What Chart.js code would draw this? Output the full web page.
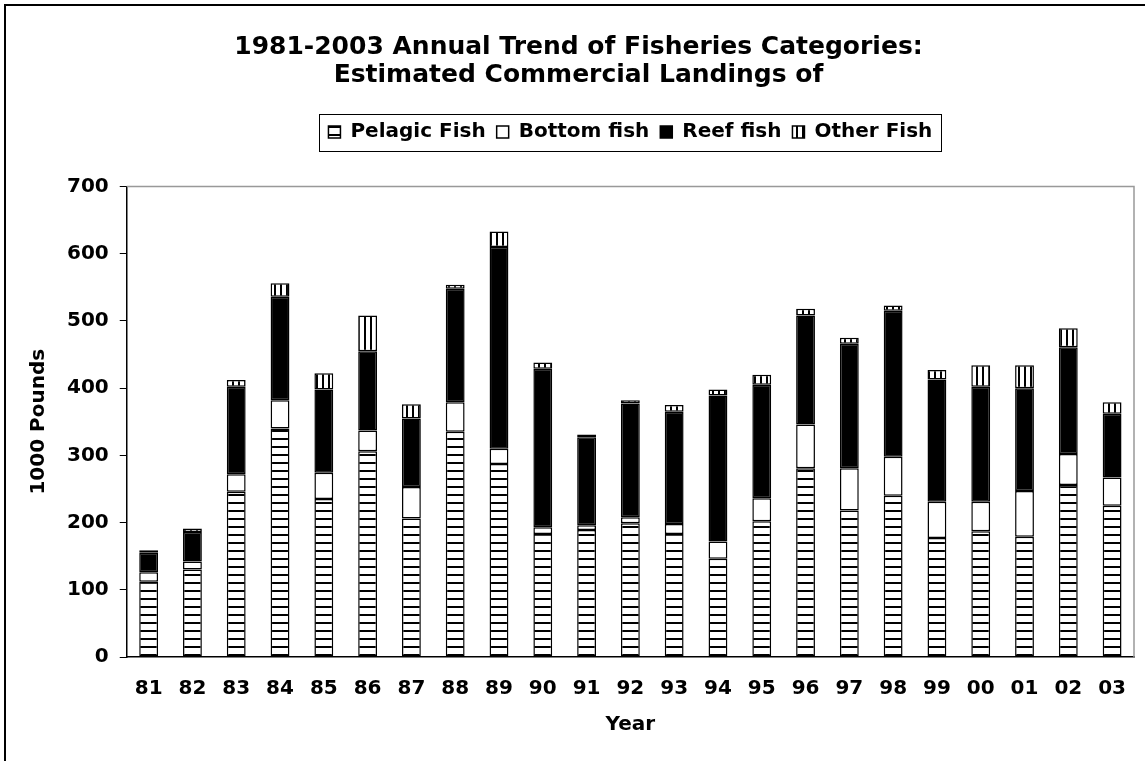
<!DOCTYPE html>
<html>
<head>
<meta charset="utf-8">
<script src="https://cdn.jsdelivr.net/npm/chart.js@4/dist/chart.umd.min.js"></script>
<style>
  body { margin: 0; background: #fff; }
  #wrap { width: 1145px; height: 761px; }
</style>
</head>
<body>
<div id="wrap"><canvas id="fishChart" width="1145" height="761"></canvas></div>
<script>
// data (1000 pounds)
let years = ["81","82","83","84","85","86","87","88","89","90","91","92","93","94","95","96","97","98","99","00","01","02","03"];
let pelagic = [112,130,246,340,235,306,206,335,287,183,189,199,183,146,202,281,218,240,177,187,179,256,225];
let bottomFish = [14,12,26,42,39,31,47,44,23,10,7,9,15,26,34,65,63,58,54,44,68,46,42];
let reefFish = [29,44,130,154,124,118,102,169,300,236,131,169,167,217,169,162,185,217,182,171,153,159,95];
let otherFish = [4,5,10,20,24,53,21,6,23,9,4,5,10,9,15,10,9,8,14,32,34,28,17];
let seriesNames = ["Pelagic Fish", "Bottom fish", "Reef fish", "Other Fish"];
let yTicks = [0, 700, 100];

let canvas = document.getElementById("fishChart");
let ctx = canvas.getContext("2d");

// hatch patterns
function makePattern(w, h, drawLines) {
  let c = document.createElement("canvas");
  c.width = w; c.height = h;
  let p = c.getContext("2d");
  p.fillStyle = "#fff";
  p.fillRect(0, 0, w, h);
  p.fillStyle = "#000";
  drawLines(p);
  return ctx.createPattern(c, "repeat");
}
let horizStripes = makePattern(8, 8, p => p.fillRect(0, 6, 8, 2));
let vertStripes = makePattern(6, 6, p => p.fillRect(4, 0, 2, 6));

const font = "'DejaVu Sans', Verdana, sans-serif";

// outer frame, plot frame and legend box
const frames = {
  id: "frames",
  afterInit(chart) {
    // leave a gap under the legend, like the original
    let legend = chart.legend;
    let fit = legend.fit;
    legend.fit = function () {
      fit.call(this);
      this.height += 34.5;
    };
  },
  afterLayout(chart) {
    // center the legend over the plot area instead of the whole canvas
    chart.legend.left = chart.chartArea.left;
    chart.legend.right = chart.chartArea.right;
  },
  beforeDraw(chart) {
    let c = chart.ctx;
    c.save();
    c.fillStyle = "#fff";
    c.fillRect(0, 0, chart.width, chart.height);
    c.strokeStyle = "#000";
    c.lineWidth = 2;
    c.strokeRect(5, 5, chart.width + 20, chart.height + 20);
    c.restore();
  },
  afterDraw(chart) {
    let c = chart.ctx;
    let a = chart.chartArea;
    c.save();
    c.strokeStyle = "#999";
    c.lineWidth = 1.5;
    c.beginPath();
    c.moveTo(a.left, a.top);
    c.lineTo(a.right, a.top);
    c.lineTo(a.right, a.bottom);
    c.stroke();
    let boxes = chart.legend.legendHitBoxes;
    if (boxes && boxes.length) {
      let l = Math.min(...boxes.map(b => b.left));
      let r = Math.max(...boxes.map(b => b.left + b.width));
      let t = Math.min(...boxes.map(b => b.top));
      let btm = Math.max(...boxes.map(b => b.top + b.height));
      c.strokeStyle = "#000";
      c.lineWidth = 1;
      c.strokeRect(Math.round(l - 9) + 0.5, Math.round(t - 8.5) + 0.5, Math.round(r - l + 18), Math.round(btm - t + 17));
    }
    c.restore();
  }
};

new Chart(canvas, {
  type: "bar",
  data: {
    labels: years,
    datasets: [
      { label: seriesNames[0], data: pelagic, backgroundColor: horizStripes },
      { label: seriesNames[1], data: bottomFish, backgroundColor: "#fff" },
      { label: seriesNames[2], data: reefFish, backgroundColor: "#000" },
      { label: seriesNames[3], data: otherFish, backgroundColor: vertStripes }
    ].map(d => Object.assign(d, {
      borderColor: "#000",
      borderWidth: 1.5,
      borderSkipped: false,
      barPercentage: 0.43,
      categoryPercentage: 1.0
    }))
  },
  options: {
    responsive: false,
    animation: false,
    layout: { padding: { top: 33, left: 23, right: 11, bottom: 20 } },
    plugins: {
      title: {
        display: true,
        text: ["1981-2003 Annual Trend of Fisheries Categories:", "Estimated Commercial Landings of"],
        color: "#000",
        font: { family: font, size: 25, weight: "bold", lineHeight: 1.12 },
        padding: { top: 0, bottom: 22 }
      },
      legend: {
        display: true,
        position: "top",
        labels: {
          color: "#000",
          font: { family: font, size: 20, weight: "bold" },
          boxWidth: 12,
          boxHeight: 12,
          padding: 11
        }
      },
      tooltip: { enabled: false }
    },
    scales: {
      x: {
        stacked: true,
        grid: { display: false },
        border: { color: "#000", width: 1.5 },
        ticks: { color: "#000", font: { family: font, size: 20, weight: "bold" }, padding: 12 },
        title: {
          display: true,
          text: "Year",
          color: "#000",
          font: { family: font, size: 20, weight: "bold" },
          padding: { top: 0, bottom: 4 }
        }
      },
      y: {
        stacked: true,
        min: yTicks[0],
        max: yTicks[1],
        ticks: { stepSize: yTicks[2], color: "#000", font: { family: font, size: 20, weight: "bold" }, padding: 11 },
        grid: { drawOnChartArea: false, drawTicks: true, tickLength: 7, color: "#000", lineWidth: 1 },
        border: { color: "#000", width: 1.5 },
        title: {
          display: true,
          text: "1000 Pounds",
          color: "#000",
          font: { family: font, size: 20, weight: "bold" },
          padding: { top: 4, bottom: 5 }
        }
      }
    }
  },
  plugins: [frames]
});
</script>
</body>
</html>
